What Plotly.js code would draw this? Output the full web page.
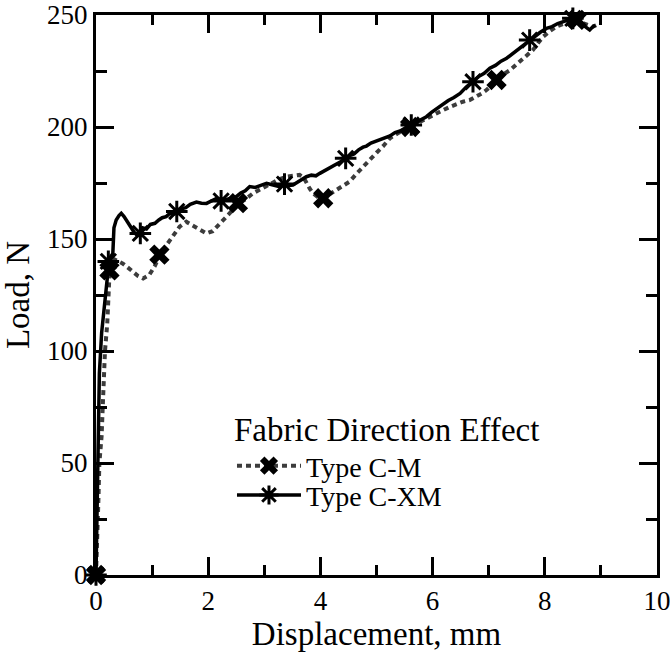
<!DOCTYPE html>
<html>
<head>
<meta charset="utf-8">
<script src="https://cdn.plot.ly/plotly-3.0.1.min.js"></script>
<style>html,body{margin:0;padding:0;background:#fff;}#chart{width:670px;height:656px;}</style>
</head>
<body>
<div id="chart"></div>
<script>
// Type C-M (dashed grey curve)
var cmX = [0, 0.02, 0.045, 0.06, 0.1, 0.12, 0.14, 0.16, 0.2, 0.22, 0.24, 0.28, 0.32, 0.4, 0.48, 0.58, 0.66, 0.75, 0.84, 0.95, 1.05, 1.13, 1.22, 1.31, 1.4, 1.49, 1.61, 1.72, 1.85, 1.97, 2.08, 2.2, 2.32, 2.44, 2.55, 2.65, 2.8, 2.95, 3.1, 3.25, 3.39, 3.52, 3.63, 3.7, 3.75, 3.81, 3.87, 3.95, 4.05, 4.17, 4.29, 4.4, 4.52, 4.64, 4.76, 4.86, 4.94, 5.0, 5.12, 5.24, 5.4, 5.59, 5.77, 5.95, 6.13, 6.31, 6.45, 6.54, 6.66, 6.78, 6.88, 6.96, 7.05, 7.14, 7.26, 7.38, 7.5, 7.61, 7.7, 7.79, 7.88, 7.97, 8.09, 8.21, 8.33, 8.45, 8.57, 8.69, 8.78, 8.86, 8.92];
var cmY = [0, 12, 35, 50, 62, 75, 90, 100, 112, 122, 134, 139, 141, 140, 139, 137, 135.4, 133.5, 132.4, 134, 138, 142.5, 146, 149, 152.5, 155.5, 157.7, 156, 154, 152.5, 153.5, 156.5, 160, 163, 166, 167.5, 170.4, 172.5, 174.9, 176.5, 177.8, 178.3, 178.6, 177.5, 175, 172.5, 170.4, 168.8, 168.2, 170, 171.9, 173.5, 175.6, 179, 182.3, 184.5, 186.7, 188.5, 191.5, 195, 197.5, 200, 202.5, 204.6, 206.8, 209, 210.5, 211.3, 212, 213.5, 215, 216.5, 218.5, 221, 223.5, 225.4, 228, 230.7, 232.5, 234.4, 237.5, 240.3, 242.8, 244.8, 246, 247, 248, 246.3, 245.5, 244.8, 245.5];
var cmMarkX = [0, 0.24, 1.13, 2.53, 4.05, 5.6, 7.14, 8.57];
var cmMarkY = [0, 136, 143, 166, 168.2, 200, 221, 247.8];

// Type C-XM (solid black curve)
var cxmX = [0, 0.02, 0.04, 0.06, 0.1, 0.14, 0.18, 0.22, 0.26, 0.3, 0.32, 0.36, 0.41, 0.45, 0.5, 0.56, 0.62, 0.68, 0.72, 0.78, 0.83, 0.9, 0.97, 1.05, 1.12, 1.18, 1.25, 1.32, 1.38, 1.45, 1.52, 1.6, 1.68, 1.79, 1.88, 1.97, 2.05, 2.14, 2.23, 2.32, 2.41, 2.5, 2.58, 2.66, 2.74, 2.84, 2.94, 3.04, 3.14, 3.22, 3.27, 3.36, 3.44, 3.51, 3.6, 3.68, 3.75, 3.84, 3.92, 3.99, 4.08, 4.17, 4.26, 4.36, 4.45, 4.52, 4.6, 4.68, 4.76, 4.82, 4.9, 4.98, 5.06, 5.15, 5.24, 5.33, 5.42, 5.52, 5.62, 5.72, 5.8, 5.89, 5.98, 6.08, 6.19, 6.28, 6.38, 6.49, 6.6, 6.72, 6.82, 6.92, 7.02, 7.12, 7.22, 7.32, 7.42, 7.52, 7.62, 7.73, 7.82, 7.92, 8.03, 8.13, 8.23, 8.33, 8.42, 8.5, 8.58, 8.64, 8.69, 8.75, 8.8, 8.85, 8.9];
var cxmY = [0, 25, 60, 90, 108, 118, 128, 137, 142, 143.5, 155, 158.5, 160.5, 161.5, 160, 157.5, 155, 153, 152, 152.5, 155, 154.5, 156.5, 157, 158.5, 159.5, 160, 161.5, 161, 162.5, 163.5, 164, 165.5, 166.5, 166, 165.9, 167, 168, 167, 167.5, 168.2, 168.9, 170.5, 171.5, 173.4, 173, 174, 174.9, 174.2, 173.8, 173.4, 174.5, 173.9, 174.1, 175.5, 176.5, 177.8, 178.5, 178.2, 179.3, 180.5, 182, 183.2, 184.5, 186, 187.2, 188, 189.8, 191, 191.5, 192.8, 193.5, 194.5, 195.2, 196, 197.5, 198.2, 199.6, 200.9, 202.2, 203.4, 204.6, 206.5, 208.3, 210.6, 211.8, 213.2, 215, 217.8, 220.2, 222.5, 224, 226.2, 227.5, 229.4, 230.7, 232.6, 234.5, 236.5, 238.8, 240.5, 242.3, 244, 244.8, 246.2, 247, 247.6, 248.5, 247.2, 246.4, 245.5, 244.2, 243.3, 244.6, 245.5];
var cxmMarkX = [0, 0.22, 0.79, 1.44, 2.23, 3.36, 4.45, 5.62, 6.72, 7.73, 8.5];
var cxmMarkY = [0, 140, 152.5, 162.3, 167, 174.5, 186, 200.9, 220.2, 238.8, 248.5];

// legend labels
var seriesNames = ['Type C-M', 'Type C-XM'];
var legendTitle = 'Fabric Direction Effect';

var font = 'Liberation Serif';
var grey = '#3c3c3c';

var cmLine = {color: grey, width: 4, dash: '5px,4px'};
var cxmLine = {color: '#000', width: 3.5};
var cmMarker = {symbol: 'x', size: 18, color: '#000', line: {width: 0}};
var cxmMarker = {symbol: 'asterisk-open', size: 18, color: '#000', line: {width: 3, color: '#000'}};

var traces = [
  {x: cmX, y: cmY, mode: 'lines', line: cmLine, showlegend: false, hoverinfo: 'skip'},
  {x: cxmX, y: cxmY, mode: 'lines', line: cxmLine, showlegend: false, hoverinfo: 'skip'},
  {x: cmMarkX, y: cmMarkY, mode: 'markers', marker: cmMarker, showlegend: false, cliponaxis: false},
  {x: cxmMarkX, y: cxmMarkY, mode: 'markers', marker: cxmMarker, showlegend: false, cliponaxis: false},
  {x: [null], y: [null], mode: 'lines+markers', name: seriesNames[0], line: cmLine, marker: cmMarker, legend: 'legend'},
  {x: [null], y: [null], mode: 'lines+markers', name: seriesNames[1], line: cxmLine, marker: cxmMarker, legend: 'legend2'}
];

var axisCommon = {
  showline: true, linewidth: 3, linecolor: '#000', mirror: 'ticks',
  ticks: 'inside', ticklen: 18, tickwidth: 3, tickcolor: '#000',
  showgrid: false, zeroline: false, ticklabeloverflow: 'allow',
  tickfont: {family: font, size: 27, color: '#000'}
};

var legendCommon = {
  xanchor: 'left', yanchor: 'top',
  bgcolor: 'rgba(0,0,0,0)', borderwidth: 0,
  font: {family: font, size: 28, color: '#000'},
  itemwidth: 64, traceorder: 'normal', tracegroupgap: 0
};

var layout = {
  width: 670, height: 656,
  margin: {l: 96, r: 13, t: 15, b: 81},
  paper_bgcolor: '#fff', plot_bgcolor: '#fff',
  font: {family: font, color: '#000'},
  xaxis: Object.assign({}, axisCommon, {
    range: [0, 10], dtick: 2, tick0: 0,
    minor: {dtick: 1, ticks: 'inside', ticklen: 10, tickwidth: 3, tickcolor: '#000'},
    title: {text: 'Displacement, mm', font: {family: font, size: 33, color: '#000'}, standoff: 4}
  }),
  yaxis: Object.assign({}, axisCommon, {
    range: [0, 250], dtick: 50, tick0: 0,
    minor: {dtick: 25, ticks: 'inside', ticklen: 11, tickwidth: 3, tickcolor: '#000'},
    title: {text: 'Load, N', font: {family: font, size: 33, color: '#000'}, standoff: 10}
  }),
  showlegend: true,
  legend: Object.assign({}, legendCommon, {
    x: 0.2424, y: 0.316,
    title: {text: legendTitle, font: {family: font, size: 33, color: '#000'}, side: 'top'}
  }),
  legend2: Object.assign({}, legendCommon, {
    x: 0.2424, y: 0.187
  })
};

Plotly.newPlot('chart', traces, layout, {displayModeBar: false, staticPlot: true});
</script>
</body>
</html>
